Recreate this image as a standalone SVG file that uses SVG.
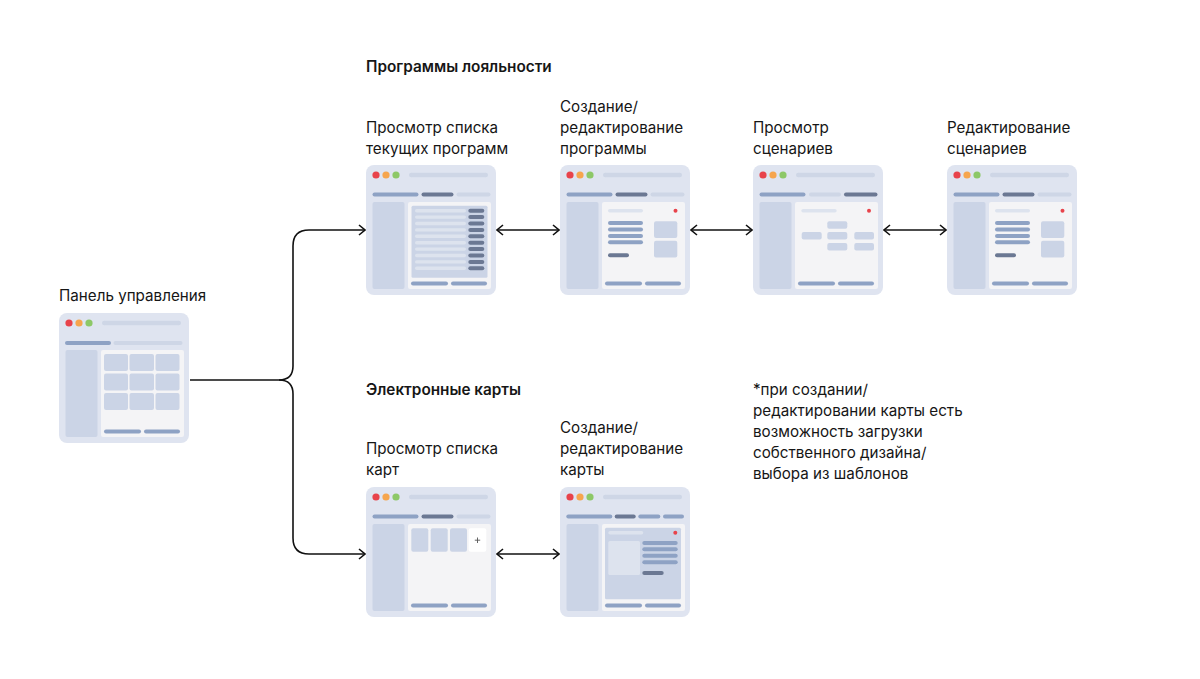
<svg xmlns="http://www.w3.org/2000/svg" width="1200" height="679" viewBox="0 0 1200 679">
<style>
.t{font-family:Inter,"Noto Sans",sans-serif;font-size:15.2px;fill:#161616}
.b{font-weight:600;font-size:15.3px}
.win{fill:#DFE4F0}
.side{fill:#CBD4E6}
.main{fill:#F4F4F6}
.addr{fill:#CED6E6}
.med{fill:#8EA2C4}
.dark{fill:#6B7893}
.lt{fill:#CED6E6}
.cell{fill:#CBD4E6}
.row{fill:#DDE3EE}
.hdr{fill:#DDE3EE}
.r{fill:#E8434B}.o{fill:#F6A54D}.g{fill:#8DC867}
.con{fill:none;stroke:#111;stroke-width:1.6}
</style>
<defs>
<marker id="ah" viewBox="0 0 8 12" markerWidth="8" markerHeight="12" refX="7" refY="6" orient="auto-start-reverse" markerUnits="userSpaceOnUse">
<path d="M1,1 L7,6 L1,11" fill="none" stroke="#111" stroke-width="1.6"/>
</marker>
<g id="frame">
<rect class="win" x="0" y="0" width="130" height="130" rx="8"/>
<circle class="r" cx="10" cy="10" r="3.6"/>
<circle class="o" cx="20" cy="10" r="3.6"/>
<circle class="g" cx="30" cy="10" r="3.6"/>
<rect class="addr" x="43" y="7.7" width="79" height="4.6" rx="2.3"/>
<rect class="side" x="6.5" y="37" width="32" height="87" rx="2"/>
<rect class="main" x="42" y="37" width="83" height="87" rx="2"/>
</g>
<g id="foot">
<rect class="med" x="45" y="116.5" width="37" height="4" rx="2"/>
<rect class="med" x="85" y="116.5" width="36" height="4" rx="2"/>
</g>
<g id="tabs3">
<rect class="med" x="6.5" y="27.5" width="46" height="4" rx="2"/>
<rect class="dark" x="55.5" y="27.5" width="32" height="4" rx="2"/>
<rect class="lt" x="90.5" y="27.5" width="34" height="4" rx="2"/>
</g>
<g id="form">
<rect class="hdr" x="48" y="44" width="35" height="3.6" rx="1.8"/>
<circle class="r" cx="115.5" cy="45.8" r="2"/>
<rect class="med" x="48" y="56" width="35" height="4" rx="2"/>
<rect class="med" x="48" y="62.5" width="35" height="4" rx="2"/>
<rect class="med" x="48" y="69" width="35" height="4" rx="2"/>
<rect class="med" x="48" y="75.3" width="35" height="4" rx="2"/>
<rect class="dark" x="48" y="88.3" width="21" height="4" rx="2"/>
<rect class="cell" x="94" y="56.3" width="23.3" height="16.7" rx="2"/>
<rect class="cell" x="94" y="75.7" width="23.3" height="16.7" rx="2"/>
</g>
</defs>

<g id="connectors">
<path class="con" d="M190,380 H279 Q293,380 293,366 V246 Q293,230 309,230 H365" marker-end="url(#ah)"/>
<path class="con" d="M279,380 Q293,380 293,394 V538 Q293,554 309,554 H365" marker-end="url(#ah)"/>
<path class="con" d="M497,230 H559" marker-start="url(#ah)" marker-end="url(#ah)"/>
<path class="con" d="M691,230 H752" marker-start="url(#ah)" marker-end="url(#ah)"/>
<path class="con" d="M884,230 H946" marker-start="url(#ah)" marker-end="url(#ah)"/>
<path class="con" d="M497,554 H559" marker-start="url(#ah)" marker-end="url(#ah)"/>
</g>

<g id="titles">
<text class="t b" x="366" y="72">Программы лояльности</text>
<text class="t b" x="366" y="395">Электронные карты</text>
</g>

<g id="dashboard">
<text class="t" x="59" y="301">Панель управления</text>
<g transform="translate(59,313)">
<use href="#frame"/>
<rect class="med" x="6" y="28" width="46" height="4" rx="2"/>
<rect class="lt" x="54.5" y="28" width="69" height="4" rx="2"/>
<rect class="cell" x="45" y="41" width="24" height="17" rx="2"/>
<rect class="cell" x="70.5" y="41" width="24.5" height="17" rx="2"/>
<rect class="cell" x="96.5" y="41" width="24" height="17" rx="2"/>
<rect class="cell" x="45" y="60.5" width="24" height="17" rx="2"/>
<rect class="cell" x="70.5" y="60.5" width="24.5" height="17" rx="2"/>
<rect class="cell" x="96.5" y="60.5" width="24" height="17" rx="2"/>
<rect class="cell" x="45" y="80" width="24" height="17" rx="2"/>
<rect class="cell" x="70.5" y="80" width="24.5" height="17" rx="2"/>
<rect class="cell" x="96.5" y="80" width="24" height="17" rx="2"/>
<use href="#foot"/>
</g>
</g>

<g id="programs-list">
<text class="t" x="366" y="133">Просмотр списка</text>
<text class="t" x="366" y="154">текущих программ</text>
<g transform="translate(366,165)">
<use href="#frame"/>
<use href="#tabs3"/>
<rect class="cell" x="45.5" y="40.7" width="76" height="72" rx="1.5"/>
<g>
<rect class="row" x="49" y="44" width="51" height="3.4" rx="1.7"/><rect class="dark" x="102.3" y="43.7" width="16" height="4" rx="2"/>
<rect class="row" x="49" y="50.4" width="51" height="3.4" rx="1.7"/><rect class="dark" x="102.3" y="50.1" width="16" height="4" rx="2"/>
<rect class="row" x="49" y="56.8" width="51" height="3.4" rx="1.7"/><rect class="dark" x="102.3" y="56.5" width="16" height="4" rx="2"/>
<rect class="row" x="49" y="63.2" width="51" height="3.4" rx="1.7"/><rect class="dark" x="102.3" y="62.9" width="16" height="4" rx="2"/>
<rect class="row" x="49" y="69.6" width="51" height="3.4" rx="1.7"/><rect class="dark" x="102.3" y="69.3" width="16" height="4" rx="2"/>
<rect class="row" x="49" y="76" width="51" height="3.4" rx="1.7"/><rect class="dark" x="102.3" y="75.7" width="16" height="4" rx="2"/>
<rect class="row" x="49" y="82.4" width="51" height="3.4" rx="1.7"/><rect class="dark" x="102.3" y="82.1" width="16" height="4" rx="2"/>
<rect class="row" x="49" y="88.8" width="51" height="3.4" rx="1.7"/><rect class="dark" x="102.3" y="88.5" width="16" height="4" rx="2"/>
<rect class="row" x="49" y="95.2" width="51" height="3.4" rx="1.7"/><rect class="dark" x="102.3" y="94.9" width="16" height="4" rx="2"/>
<rect class="row" x="49" y="101.6" width="51" height="3.4" rx="1.7"/><rect class="dark" x="102.3" y="101.3" width="16" height="4" rx="2"/>
</g>
<use href="#foot"/>
</g>
</g>

<g id="program-edit">
<text class="t" x="560" y="112">Создание/</text>
<text class="t" x="560" y="133">редактирование</text>
<text class="t" x="560" y="154">программы</text>
<g transform="translate(560,165)">
<use href="#frame"/>
<use href="#tabs3"/>
<use href="#form"/>
<use href="#foot"/>
</g>
</g>

<g id="scenarios-view">
<text class="t" x="753" y="133">Просмотр</text>
<text class="t" x="753" y="154">сценариев</text>
<g transform="translate(753,165)">
<use href="#frame"/>
<rect class="med" x="6.5" y="27.5" width="46" height="4" rx="2"/>
<rect class="lt" x="56" y="27.5" width="32" height="4" rx="2"/>
<rect class="dark" x="91" y="27.5" width="33.5" height="4" rx="2"/>
<rect class="hdr" x="48.3" y="44" width="35.4" height="3.6" rx="1.8"/>
<circle class="r" cx="116" cy="45.8" r="2"/>
<rect class="cell" x="74.3" y="56.3" width="20" height="7.4" rx="2"/>
<rect class="cell" x="48.7" y="67" width="20" height="7.4" rx="2"/>
<rect class="cell" x="74.3" y="67" width="20" height="7.4" rx="2"/>
<rect class="cell" x="101.3" y="67" width="19.7" height="7.4" rx="2"/>
<rect class="cell" x="74.3" y="78" width="20" height="7.4" rx="2"/>
<rect class="cell" x="101.3" y="78" width="19.7" height="7.4" rx="2"/>
<use href="#foot"/>
</g>
</g>

<g id="scenarios-edit">
<text class="t" x="947" y="133">Редактирование</text>
<text class="t" x="947" y="154">сценариев</text>
<g transform="translate(947,165)">
<use href="#frame"/>
<use href="#tabs3"/>
<use href="#form"/>
<use href="#foot"/>
</g>
</g>

<g id="cards-list">
<text class="t" x="366" y="454">Просмотр списка</text>
<text class="t" x="366" y="475">карт</text>
<g transform="translate(366,487)">
<use href="#frame"/>
<use href="#tabs3"/>
<rect class="cell" x="45.3" y="41.3" width="17" height="23.4" rx="2"/>
<rect class="cell" x="64.7" y="41.3" width="17" height="23.4" rx="2"/>
<rect class="cell" x="84" y="41.3" width="17" height="23.4" rx="2"/>
<rect fill="#FFFFFF" x="102.7" y="41.3" width="17.6" height="23.4" rx="2"/>
<path d="M111.5,50.5 V56 M108.8,53.2 H114.2" stroke="#555" stroke-width="0.9" fill="none"/>
<use href="#foot"/>
</g>
</g>

<g id="card-edit">
<text class="t" x="560" y="433">Создание/</text>
<text class="t" x="560" y="454">редактирование</text>
<text class="t" x="560" y="475">карты</text>
<g transform="translate(560,487)">
<use href="#frame"/>
<rect class="med" x="6.3" y="27.5" width="46" height="4" rx="2"/>
<rect class="dark" x="54.7" y="27.5" width="21" height="4" rx="2"/>
<rect class="med" x="78.3" y="27.5" width="22" height="4" rx="2"/>
<rect class="med" x="103" y="27.5" width="21" height="4" rx="2"/>
<rect class="cell" x="45" y="40.7" width="76" height="71.6" rx="1.5"/>
<rect class="hdr" x="48.3" y="44" width="35" height="3.6" rx="1.8"/>
<circle class="r" cx="115.3" cy="45.8" r="2"/>
<rect class="hdr" x="48.3" y="54" width="31.7" height="34" rx="1.5"/>
<rect class="med" x="82.3" y="54" width="35.4" height="4" rx="2"/>
<rect class="med" x="82.3" y="60.3" width="35.4" height="4" rx="2"/>
<rect class="med" x="82.3" y="66.7" width="35.4" height="4" rx="2"/>
<rect class="med" x="82.3" y="73.3" width="35.4" height="4" rx="2"/>
<rect class="dark" x="82.3" y="84" width="21.4" height="4" rx="2"/>
<use href="#foot"/>
</g>
</g>

<g id="note">
<text class="t" x="753" y="395">*при создании/</text>
<text class="t" x="753" y="416">редактировании карты есть</text>
<text class="t" x="753" y="437">возможность загрузки</text>
<text class="t" x="753" y="458">собственного дизайна/</text>
<text class="t" x="753" y="479">выбора из шаблонов</text>
</g>
</svg>
